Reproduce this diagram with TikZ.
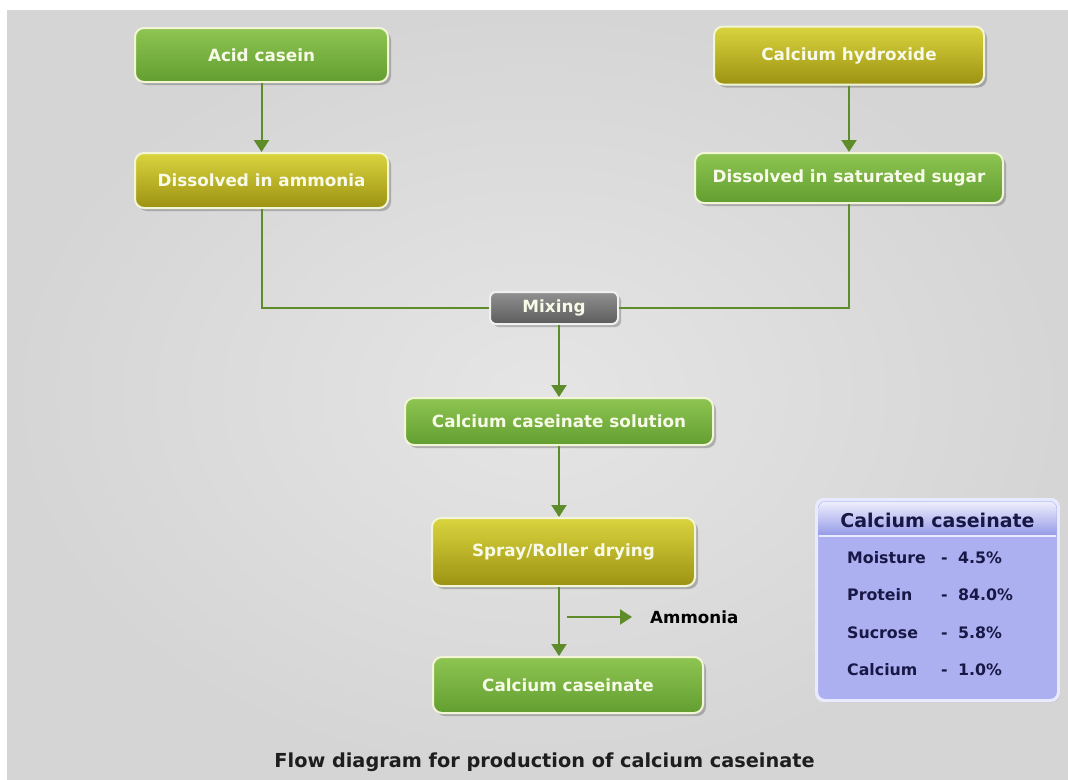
\documentclass[tikz,border=0pt]{standalone}
\usepackage{fontspec}
\setmainfont{DejaVu Sans}
\usetikzlibrary{arrows.meta,shadows,calc}
\definecolor{bgin}{RGB}{229,229,229}
\definecolor{bgout}{RGB}{213,213,213}
\definecolor{gtop}{RGB}{142,197,82}
\definecolor{gbot}{RGB}{98,158,48}
\definecolor{otop}{RGB}{218,212,62}
\definecolor{obot}{RGB}{156,146,18}
\definecolor{mtop}{RGB}{145,145,145}
\definecolor{mbot}{RGB}{92,92,92}
\definecolor{edgec}{RGB}{242,246,214}
\definecolor{arrowc}{RGB}{94,140,42}
\definecolor{lav}{RGB}{172,176,240}
\definecolor{lavdark}{RGB}{150,155,232}
\definecolor{lavedge}{RGB}{232,234,255}
\definecolor{navy}{RGB}{24,24,70}
\definecolor{capc}{RGB}{30,30,30}
\definecolor{boxtext}{RGB}{248,250,232}
\tikzset{
  box/.style={draw=edgec, line width=2pt, rounded corners=9pt, text=boxtext,
    font=\bfseries\fontsize{16.8}{20}\selectfont, align=center, inner sep=0pt,
    drop shadow={shadow xshift=3pt, shadow yshift=-3pt, fill=black, opacity=0.22}},
  greenbox/.style={box, top color=gtop, bottom color=gbot},
  olivebox/.style={box, top color=otop, bottom color=obot},
  graybox/.style={box, top color=mtop, bottom color=mbot, draw=white!88!gray},
  arr/.style={draw=arrowc, line width=2pt, -{Triangle[width=15pt,length=12pt]}},
  link/.style={draw=arrowc, line width=2pt},
  rowtext/.style={text=navy, font=\bfseries\fontsize{15.8}{18}\selectfont, inner sep=0pt, anchor=base west}
}
\begin{document}
\begin{tikzpicture}[x=1pt,y=-1pt]
\useasboundingbox (0,0) rectangle (1068,779);
\fill[white] (0,0) rectangle (1068,779);
\shade[inner color=bgin, outer color=bgout] (7,10) rectangle (1068,779);

% process boxes
\node[greenbox, minimum width=253pt, minimum height=54pt] (acid) at (261.5,55) {Acid casein};
\node[olivebox, minimum width=270pt, minimum height=58pt] (calhyd) at (849,55.5) {Calcium hydroxide};
\node[olivebox, minimum width=253pt, minimum height=55pt] (dissam) at (261.5,180.5) {Dissolved in ammonia};
\node[greenbox, minimum width=308pt, minimum height=50pt] (disssug) at (849,178) {Dissolved in saturated sugar};
\node[graybox, minimum width=128pt, minimum height=32pt, rounded corners=6pt] (mixing) at (554,308) {Mixing};
\node[greenbox, minimum width=308pt, minimum height=47pt] (ccsol) at (559,421.5) {Calcium caseinate solution};
\node[olivebox, minimum width=263pt, minimum height=68pt] (spray) at (563.5,552) {Spray/Roller drying};
\node[greenbox, minimum width=270pt, minimum height=56pt] (cc) at (568,685) {Calcium caseinate};

% connectors
\draw[arr] (acid.south) -- (dissam.north);
\draw[arr] (calhyd.south) -- (disssug.north);
\draw[link] (dissam.south) -- (dissam.south |- mixing.west) -- (mixing.west);
\draw[link] (disssug.south) -- (disssug.south |- mixing.east) -- (mixing.east);
\draw[arr] (ccsol.north |- mixing.south) -- (ccsol.north);
\draw[arr] (ccsol.south) -- (ccsol.south |- spray.north);
\draw[arr] (ccsol.south |- spray.south) -- (ccsol.south |- cc.north);

% ammonia branch
\coordinate (amstart) at (567,617);
\node[anchor=west, text=black, font=\bfseries\fontsize{16.7}{20}\selectfont, inner sep=0pt] (ammonia) at (650,617) {Ammonia};
\draw[arr, shorten >=18pt] (amstart) -- (ammonia.west);

% composition table
\node[draw=lavedge, line width=2pt, fill=lav, rounded corners=8pt, minimum width=241pt, minimum height=200pt, inner sep=0pt,
  drop shadow={shadow xshift=2pt, shadow yshift=-2pt, fill=black, opacity=0.15}] (tbl) at (937.5,600) {};
\shade[top color=white!80!lav, bottom color=lavdark]
  (818.5,535) [rounded corners=7pt]-- (818.5,501.5) -- (1056.5,501.5) [sharp corners]-- (1056.5,535) -- cycle;
\draw[lavedge, line width=2pt, rounded corners=8pt] (tbl.south west) rectangle (tbl.north east);
\draw[lavedge, line width=1.2pt] (819,536) -- (1056,536);
\node[text=navy, font=\bfseries\fontsize{19}{22}\selectfont, inner sep=0pt] (tblhead) at (937.5,520) {Calcium caseinate};

\node[rowtext] (l1) at (847,563) {Moisture};
\node[rowtext] (d1) at (941,563) {-};
\node[rowtext] (v1) at (958,563) {4.5\%};
\node[rowtext] (l2) at (847,600) {Protein};
\node[rowtext] (d2) at (941,600) {-};
\node[rowtext] (v2) at (958,600) {84.0\%};
\node[rowtext] (l3) at (847,638) {Sucrose};
\node[rowtext] (d3) at (941,638) {-};
\node[rowtext] (v3) at (958,638) {5.8\%};
\node[rowtext] (l4) at (847,675) {Calcium};
\node[rowtext] (d4) at (941,675) {-};
\node[rowtext] (v4) at (958,675) {1.0\%};

% caption
\node[text=capc, font=\bfseries\fontsize{19.3}{23}\selectfont, inner sep=0pt] (caption) at (544.5,762) {Flow diagram for production of calcium caseinate};
\end{tikzpicture}
\end{document}
